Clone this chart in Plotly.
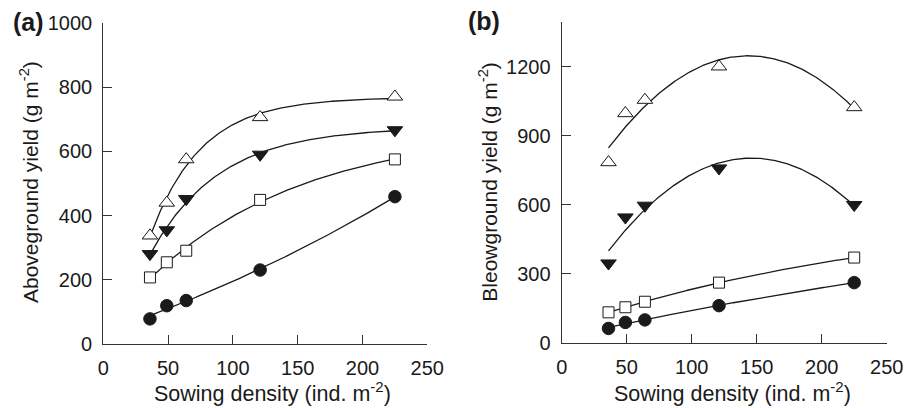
import numpy as np
import plotly.graph_objects as go

# ---- data ----
density = [36, 49, 64, 121, 225]

# (a) aboveground yield (g m-2)
above_tri_open = [338, 440, 575, 706, 770]
above_tri_down = [281, 355, 452, 590, 666]
above_square = [208, 255, 291, 449, 575]
above_circle = [79, 120, 136, 231, 459]

# (b) belowground yield (g m-2)
below_tri_open = [784, 997, 1055, 1200, 1023]
below_tri_down = [345, 545, 596, 758, 599]
below_square = [132, 154, 178, 261, 370]
below_circle = [62, 88, 99, 161, 261]

x_ticks = [0, 50, 100, 150, 200, 250]
ya_ticks = [0, 200, 400, 600, 800, 1000]
yb_ticks = [0, 300, 600, 900, 1200]

FONT = "Liberation Sans, Arial, Helvetica, sans-serif"
INK = "#1a1a1a"
AX = "#333333"


def exp_fit(x, y):
    x = np.asarray(x, float)
    y = np.asarray(y, float)
    best = None
    for k in np.concatenate([-np.logspace(-4, -1.5, 200), np.logspace(-4, -0.7, 400)]):
        M = np.column_stack([np.ones_like(x), np.exp(-k * x)])
        coef, *_ = np.linalg.lstsq(M, y, rcond=None)
        sse = float(np.sum((M @ coef - y) ** 2))
        if best is None or sse < best[0]:
            best = (sse, k, coef)
    _, k, coef = best
    xs = np.linspace(x.min(), x.max(), 200)
    return xs, coef[0] + coef[1] * np.exp(-k * xs)


def quad_fit(x, y):
    x = np.asarray(x, float)
    p = np.polyfit(x, y, 2)
    xs = np.linspace(x.min(), x.max(), 200)
    return xs, np.polyval(p, xs)


fig = go.Figure()

series_a = [
    (above_tri_open, "triangle-up", "white", 13.5, exp_fit),
    (above_tri_down, "triangle-down", INK, 13.5, exp_fit),
    (above_square, "square", "white", 11, exp_fit),
    (above_circle, "circle", INK, 12.5, exp_fit),
]
series_b = [
    (below_tri_open, "triangle-up", "white", 13.5, quad_fit),
    (below_tri_down, "triangle-down", INK, 13.5, quad_fit),
    (below_square, "square", "white", 11, exp_fit),
    (below_circle, "circle", INK, 12.5, exp_fit),
]

for xa, ya, series in (("x", "y", series_a), ("x2", "y2", series_b)):
    for vals, sym, fill, size, fit in series:
        xs, ys = fit(density, vals)
        fig.add_trace(go.Scatter(x=xs, y=ys, mode="lines", xaxis=xa, yaxis=ya,
                                 line=dict(color=INK, width=1.3), showlegend=False,
                                 hoverinfo="skip"))
    for vals, sym, fill, size, fit in series:
        fig.add_trace(go.Scatter(x=density, y=vals, mode="markers", xaxis=xa, yaxis=ya,
                                 marker=dict(symbol=sym, size=size, color=fill,
                                             line=dict(color=INK, width=1)),
                                 showlegend=False))

common_axis = dict(showline=True, linecolor=AX, linewidth=1.3, ticks="inside",
                   ticklen=9, tickwidth=1.2, tickcolor=AX, showgrid=False,
                   zeroline=False, tickfont=dict(family=FONT, size=20, color=INK),
                   mirror=False, automargin=False, ticklabelstandoff=6)

fig.update_layout(
    width=914, height=408,
    margin=dict(l=0, r=0, t=0, b=0, autoexpand=False),
    paper_bgcolor="white", plot_bgcolor="white",
    font=dict(family=FONT, size=20, color=INK),
    xaxis=dict(domain=[103.3 / 914, 427.3 / 914], range=[0, 250], tickvals=x_ticks,
               anchor="y", **common_axis),
    yaxis=dict(domain=[63.7 / 408, 385.3 / 408], range=[0, 1000], tickvals=ya_ticks,
               anchor="x", **common_axis),
    xaxis2=dict(domain=[561.7 / 914, 886.7 / 914], range=[0, 250], tickvals=x_ticks,
                anchor="y2", **common_axis),
    yaxis2=dict(domain=[65.3 / 408, 386.3 / 408], range=[0, 1395], tickvals=yb_ticks,
                anchor="x2", **common_axis),
)

ann = [
    dict(text="<b>(a)</b>", x=11 / 914, y=1 - 21.5 / 408, xanchor="left", yanchor="middle",
         font=dict(size=25)),
    dict(text="<b>(b)</b>", x=466 / 914, y=1 - 20.5 / 408, xanchor="left", yanchor="middle",
         font=dict(size=25)),
    dict(text="Sowing density (ind. m<sup>-2</sup>)", x=272.5 / 914, y=1 - 392 / 408,
         xanchor="center", yanchor="middle"),
    dict(text="Sowing density (ind. m<sup>-2</sup>)", x=732 / 914, y=1 - 392 / 408,
         xanchor="center", yanchor="middle"),
    dict(text="Aboveground yield (g m<sup>-2</sup>)", x=28.5 / 914, y=1 - 182.5 / 408,
         xanchor="center", yanchor="middle", textangle=-90, font=dict(size=21)),
    dict(text="Bleowground yield (g m<sup>-2</sup>)", x=488 / 914, y=1 - 181.7 / 408,
         xanchor="center", yanchor="middle", textangle=-90, font=dict(size=21)),
]
for a in ann:
    a.update(xref="paper", yref="paper", showarrow=False)
    a.setdefault("font", {})
    a["font"].setdefault("size", 21.5)
    a["font"].update(family=FONT, color=INK)
fig.update_layout(annotations=ann)

fig.write_html("out.html", config={"displayModeBar": False},
               post_script="document.body.style.margin='0';document.body.style.overflow='hidden';")
